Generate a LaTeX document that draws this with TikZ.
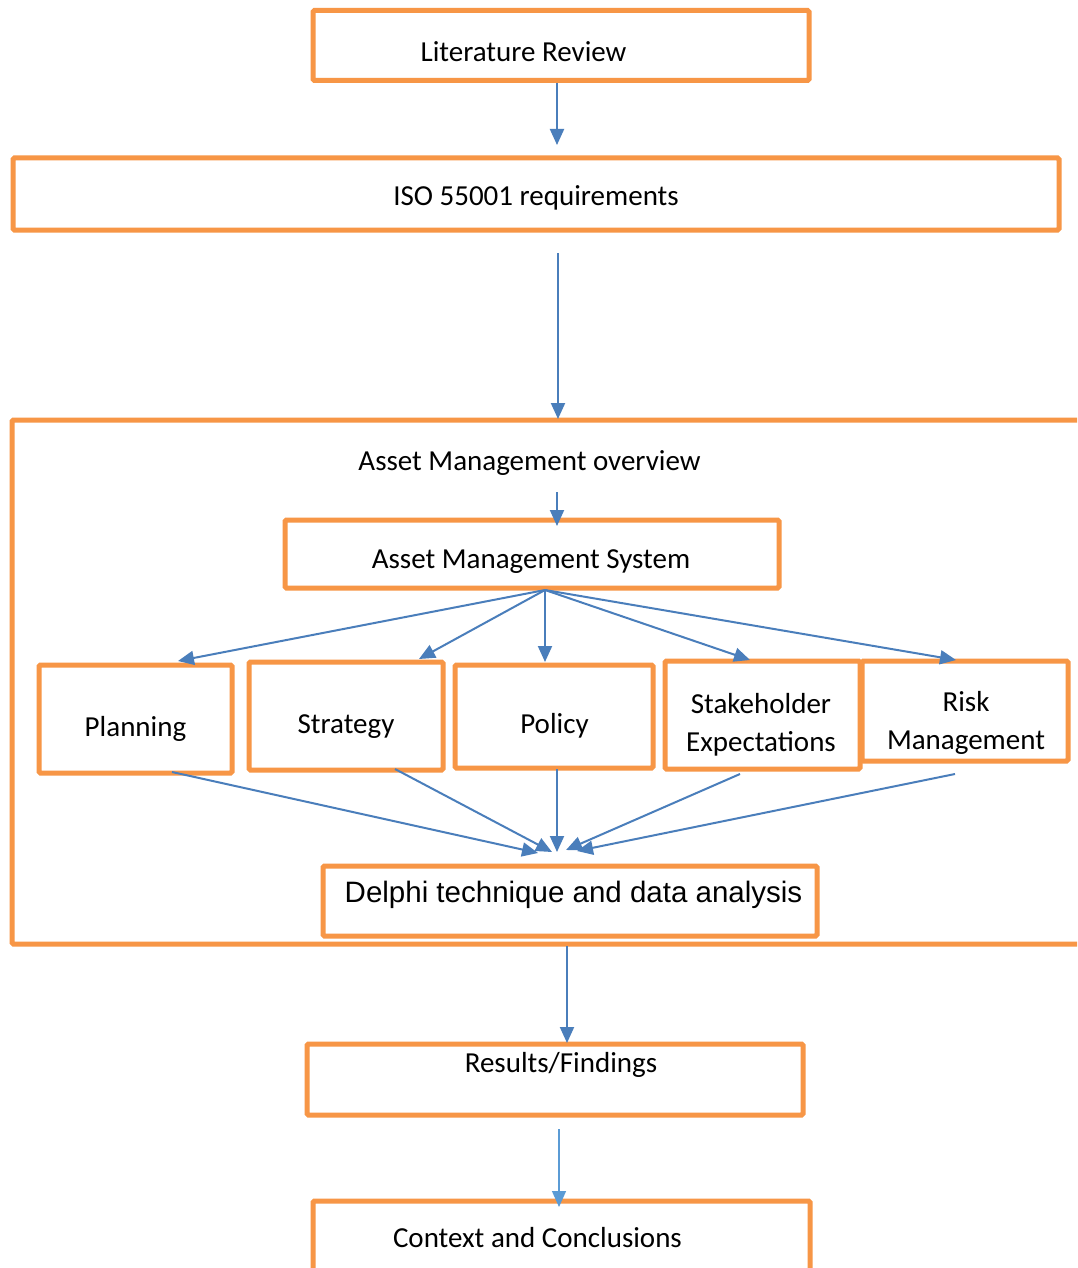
\documentclass[tikz,border=0pt]{standalone}
\usepackage{fontspec}
\setmainfont{Carlito}
\newfontfamily\arialfont{Liberation Sans}
\usetikzlibrary{arrows.meta}
\definecolor{boxorange}{HTML}{F79646}
\definecolor{arrblue}{HTML}{4A7EBB}
\definecolor{lightblue}{HTML}{5B9BD5}
\begin{document}
\begin{tikzpicture}[x=1pt,y=-1pt,
  box/.style={draw=boxorange, line width=5pt, rounded corners=1.5pt, inner sep=0pt, outer sep=0pt},
  txt/.style={anchor=base, inner sep=0pt, font=\fontsize{29}{38}\selectfont, align=center},
  conn/.style={draw=arrblue, line width=2pt, -{Triangle[length=16pt,width=14pt]}},
  thinconn/.style={draw=lightblue, line width=1.2pt, -{Triangle[length=16pt,width=14pt]}}]
\useasboundingbox (0,0) rectangle (1077,1268);
\clip (0,0) rectangle (1077,1268);
\fill[white] (0,0) rectangle (1077,1268);
% boxes
\node[box, minimum width=496pt, minimum height=70pt] (lit) at (561,45.5) {};
\node[box, minimum width=1046pt, minimum height=72pt] (iso) at (536,194) {};
\node[box, minimum width=1083pt, minimum height=524pt] (amo) at (553.5,682) {};
\node[box, minimum width=494pt, minimum height=68pt] (ams) at (532,554) {};
\node[box, minimum width=193pt, minimum height=108pt] (plan) at (135.5,719) {};
\node[box, minimum width=194pt, minimum height=108pt] (strat) at (346,716) {};
\node[box, minimum width=198pt, minimum height=103pt] (pol) at (554,716.5) {};
\node[box, minimum width=195pt, minimum height=108pt] (stake) at (762.5,715) {};
\node[box, minimum width=206pt, minimum height=100pt] (risk) at (965,711) {};
\node[box, minimum width=494pt, minimum height=70pt] (delphi) at (570,901) {};
\node[box, minimum width=496pt, minimum height=71pt] (res) at (555,1079.5) {};
\node[box, minimum width=497pt, minimum height=99pt] (con) at (561.5,1250.5) {};
% texts
\node[txt] (litT) at (523.5,62) {Literature Review};
\node[txt] (isoT) at (536,205) {ISO 55001 requirements};
\node[txt] (amoT) at (529.5,470) {Asset Management overview};
\node[txt] (amsT) at (531,568) {Asset Management System};
\node[txt] (planT) at (135.5,736) {Planning};
\node[txt] (stratT) at (346,733) {Strategy};
\node[txt] (polT) at (554.5,733) {Policy};
\node[txt] (stakeT) at (761,751) {Stakeholder\\Expectations};
\node[txt] (riskT) at (966,749) {Risk\\Management};
\node[txt, font=\arialfont\fontsize{29.5}{34}\selectfont] (delphiT) at (573.5,902) {Delphi technique and data analysis};
\node[txt] (resT) at (561,1072) {Results/Findings};
\node[txt] (conT) at (537.5,1247) {Context and Conclusions};
% connector end points
\coordinate (a1s) at (557,83);   \coordinate (a1e) at (557,145);
\coordinate (a2s) at (558,253);  \coordinate (a2e) at (558,419);
\coordinate (a3s) at (557,492);  \coordinate (a3e) at (557,526);
\coordinate (fan) at (545,590);
\coordinate (tplan) at (178,661);
\coordinate (tstrat) at (419,659);
\coordinate (tpol) at (545,662);
\coordinate (tstake) at (750,660);
\coordinate (trisk) at (956,660);
\coordinate (splan) at (172,772);
\coordinate (sstrat) at (395,769);
\coordinate (spol) at (557,769);
\coordinate (sstake) at (740,774);
\coordinate (srisk) at (955,774);
\coordinate (dplan) at (538,853);
\coordinate (dstrat) at (552,852);
\coordinate (dpol) at (557,852);
\coordinate (dstake) at (566,850);
\coordinate (drisk) at (577,851);
\coordinate (a4s) at (567,946);  \coordinate (a4e) at (567,1043);
\coordinate (a5s) at (559,1129); \coordinate (a5e) at (559,1207);
% connectors
\draw[conn] (a1s) -- (a1e);
\draw[conn] (a2s) -- (a2e);
\draw[conn] (a3s) -- (a3e);
\draw[conn] (fan) -- (tplan);
\draw[conn] (fan) -- (tstrat);
\draw[conn] (fan) -- (tpol);
\draw[conn] (fan) -- (tstake);
\draw[conn] (fan) -- (trisk);
\draw[conn] (splan) -- (dplan);
\draw[conn] (sstrat) -- (dstrat);
\draw[conn] (spol) -- (dpol);
\draw[conn] (sstake) -- (dstake);
\draw[conn] (srisk) -- (drisk);
\draw[conn] (a4s) -- (a4e);
\draw[thinconn] (a5s) -- (a5e);
\end{tikzpicture}
\end{document}
